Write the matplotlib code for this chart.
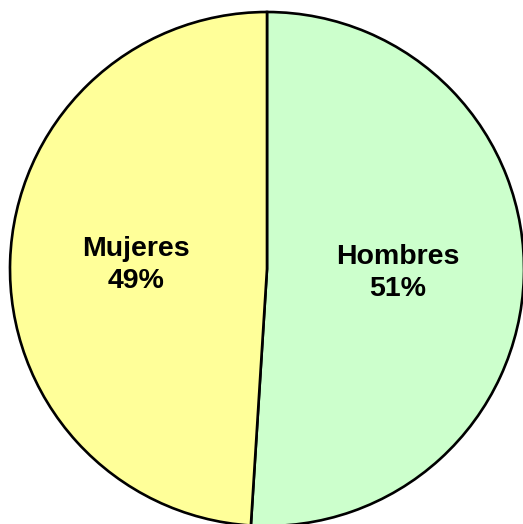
import matplotlib
matplotlib.use("Agg")
import matplotlib.pyplot as plt

# share of population by sex
categories = ["Hombres", "Mujeres"]
values = [51, 49]
colors = ["#CCFFCC", "#FFFF99"]

W, H = 523, 524
fig = plt.figure(figsize=(W / 100, H / 100), dpi=100)
ax = fig.add_axes([0, 0, 1, 1])

labels = [f"{c}\n{v}%" for c, v in zip(categories, values)]
wedges, texts = ax.pie(
    values,
    labels=labels,
    colors=colors,
    startangle=90,
    counterclock=False,
    center=(267, H - 269),
    radius=257,
    labeldistance=0.51,
    wedgeprops=dict(edgecolor="black", linewidth=1.9),
    textprops=dict(fontsize=20.5, fontweight="bold", family="Liberation Sans",
                   ha="center", va="center", multialignment="center",
                   linespacing=1.3),
    frame=True,
)
ax.set_xlim(0, W)
ax.set_ylim(0, H)
ax.set_aspect("equal")
ax.axis("off")

fig.savefig("out.png", dpi=100, facecolor="white")
